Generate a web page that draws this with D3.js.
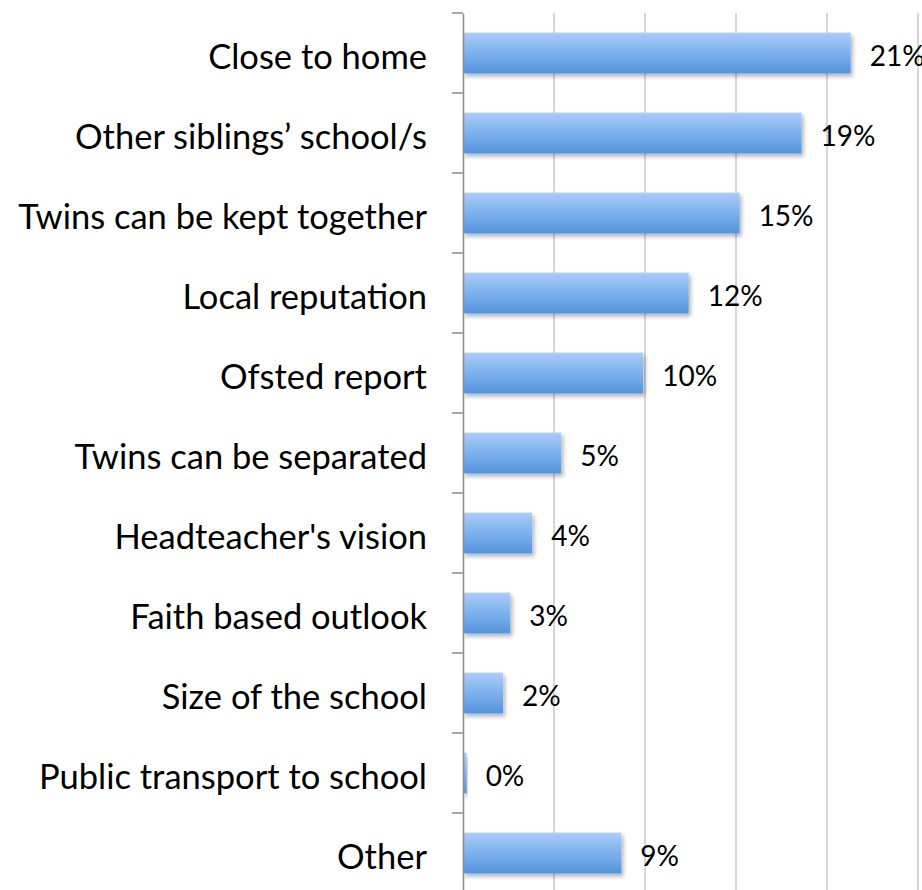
<!DOCTYPE html>
<html>
<head>
<meta charset="utf-8">
<script src="https://cdn.jsdelivr.net/npm/d3@7"></script>
<style>
  html, body { margin: 0; padding: 0; background: #fff; }
  svg { display: block; }
</style>
</head>
<body>
<svg id="chart" width="922" height="890"></svg>
<script>
const categories = [
  "Close to home",
  "Other siblings\u2019 school/s",
  "Twins can be kept together",
  "Local reputation",
  "Ofsted report",
  "Twins can be separated",
  "Headteacher's vision",
  "Faith based outlook",
  "Size of the school",
  "Public transport to school",
  "Other"
];
const values = [21.3, 18.6, 15.2, 12.4, 9.9, 5.4, 3.8, 2.6, 2.2, 0.2, 8.7];
const valueLabels = ["21%", "19%", "15%", "12%", "10%", "5%", "4%", "3%", "2%", "0%", "9%"];
const gridTicks = [0, 5, 10, 15, 20, 25];

(function () {
const svg = d3.select("#chart");
const mLeft = 463, mRight = 918, mTop = 13, mBottom = 893;

const x = d3.scaleLinear().domain([0, 25]).range([mLeft, mRight]);
const y = d3.scaleBand().domain(categories).range([mTop, mBottom]).paddingInner(0.49).paddingOuter(0.245);
const yb = d3.scaleBand().domain(categories).range([mTop, mBottom]);

const defs = svg.append("defs");
const grad = defs.append("linearGradient").attr("id", "barGrad")
  .attr("x1", 0).attr("y1", 0).attr("x2", 0).attr("y2", 1);
grad.append("stop").attr("offset", "0%").attr("stop-color", "#aacdfb");
grad.append("stop").attr("offset", "100%").attr("stop-color", "#5395dc");
const f = defs.append("filter").attr("id", "shadow").attr("x", "-20%").attr("y", "-30%").attr("width", "140%").attr("height", "170%");
f.append("feDropShadow").attr("dx", 2).attr("dy", 3).attr("stdDeviation", 2)
  .attr("flood-color", "#000").attr("flood-opacity", 0.3);

// gridlines
svg.append("g").selectAll("line").data(gridTicks.slice(1)).join("line")
  .attr("x1", d => x(d)).attr("x2", d => x(d))
  .attr("y1", mTop).attr("y2", 890)
  .attr("stroke", "#c8c8c8").attr("stroke-width", 1.5);

// bars
svg.append("g").selectAll("rect").data(values).join("rect")
  .attr("x", x(0))
  .attr("y", (d, i) => y(categories[i]))
  .attr("width", d => x(d) - x(0))
  .attr("height", y.bandwidth())
  .attr("fill", "url(#barGrad)")
  .attr("filter", "url(#shadow)");

// axis
const axis = d3.axisLeft(yb).tickSize(0).tickFormat("");
const ag = svg.append("g").attr("transform", `translate(${mLeft},0)`).call(axis);
ag.select(".domain").attr("stroke", "#8c8c8c").attr("stroke-width", 1.5);
const bounds = categories.map(c => yb(c)).concat([mBottom]);
svg.append("g").selectAll("line").data(bounds).join("line")
  .attr("x1", mLeft - 11).attr("x2", mLeft)
  .attr("y1", d => d).attr("y2", d => d)
  .attr("stroke", "#8c8c8c").attr("stroke-width", 1.5);

// category labels
svg.append("g").selectAll("text").data(categories).join("text")
  .attr("x", 427)
  .attr("y", d => yb(d) + yb.bandwidth() / 2 + 16)
  .attr("text-anchor", "end")
  .attr("font-family", "Lato, 'Open Sans', sans-serif")
  .attr("font-size", 34.5)
  .attr("fill", "#000")
  .text(d => d);

// value labels
svg.append("g").selectAll("text").data(values).join("text")
  .attr("x", d => x(d) + 19)
  .attr("y", (d, i) => yb(categories[i]) + yb.bandwidth() / 2 + 13)
  .attr("font-family", "Lato, 'Open Sans', sans-serif")
  .attr("font-size", 28)
  .attr("fill", "#000")
  .text((d, i) => valueLabels[i]);
})();
</script>
</body>
</html>
